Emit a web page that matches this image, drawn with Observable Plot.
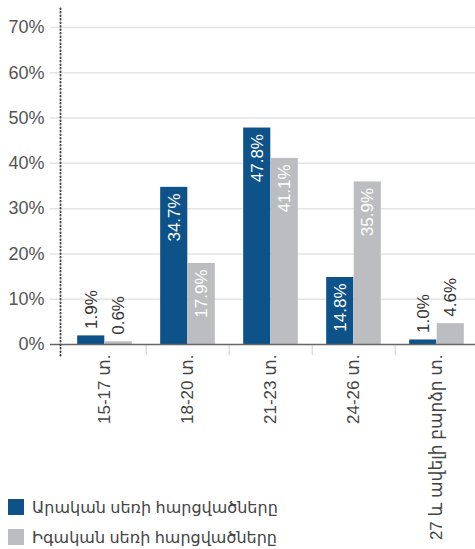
<!DOCTYPE html>
<html>
<head>
<meta charset="utf-8">
<script src="https://cdn.jsdelivr.net/npm/d3@7"></script>
<script src="https://cdn.jsdelivr.net/npm/@observablehq/plot@0.6"></script>
<style>
  html, body { margin: 0; padding: 0; background: #fff; }
  #wrap { position: relative; width: 475px; height: 549px; font-family: "Liberation Sans", Arial, "DejaVu Sans", sans-serif; }
  #legend { position: absolute; left: 8px; top: 492px; font-size: 16px; color: #444; }
  .item { display: flex; align-items: center; height: 30px; }
  .sw { width: 16px; height: 16px; margin-right: 8px; }
</style>
</head>
<body>
<div id="wrap">
  <div id="chart"></div>
  <div id="legend"></div>
</div>
<script>
const categories = ["15-17 տ.", "18-20 տ.", "21-23 տ.", "24-26 տ.", "27 և ավելի բարձր տ."];
const seriesNames = ["Արական սեռի հարցվածները", "Իգական սեռի հարցվածները"];
const maleValues = [1.9, 34.7, 47.8, 14.8, 1.0];
const femaleValues = [0.6, 17.9, 41.1, 35.9, 4.6];
const yTicks = [0, 10, 20, 30, 40, 50, 60, 70];
const colors = ["#0d5289", "#bcbdc0"];

const W = 475, H = 549, ML = 62, MR = -4, MT = 27, MB = 205;
const step = (W - ML - MR) / categories.length;
const barW = step * 0.33;
const gapOuter = (step - 2 * barW) / 2;

const male = categories.map((c, i) => ({cat: c, v: maleValues[i]}));
const female = categories.map((c, i) => ({cat: c, v: femaleValues[i]}));
const fmt = d => d.v.toFixed(1) + "%";
const inside = d => d.v >= 10;
const outside = d => d.v < 10;
const off = barW / 2; // distance from band centre to bar centre

const labelMarks = (data, sign, inColor) => [
  Plot.text(data.filter(inside), {x: "cat", y: "v", text: fmt, rotate: -90, textAnchor: "end",
    dx: sign * off, dy: 6, fill: inColor, fontSize: 17}),
  Plot.text(data.filter(outside), {x: "cat", y: "v", text: fmt, rotate: -90, textAnchor: "start",
    dx: sign * off, dy: -7, fill: "#333", fontSize: 17})
];

const chart = Plot.plot({
  width: W, height: H,
  marginLeft: ML, marginRight: MR, marginTop: MT, marginBottom: MB,
  style: {fontFamily: '"Liberation Sans", Arial, "DejaVu Sans", sans-serif', background: "#fff", overflow: "visible"},
  x: {domain: categories, padding: 0, label: null},
  y: {domain: [0, 70], label: null},
  marks: [
    Plot.ruleY(yTicks.filter(t => t > 0), {stroke: "#e4e4e4", strokeWidth: 1.5, insetLeft: -12}),
    Plot.ruleX(categories.slice(1), {x: d => d, dx: -step / 2, y1: 0, y2: 0, insetBottom: -11, stroke: "#dcdcdc", strokeWidth: 1.5}),
    Plot.barY(male, {x: "cat", y: "v", fill: colors[0], insetLeft: gapOuter, insetRight: step - gapOuter - barW}),
    Plot.barY(female, {x: "cat", y: "v", fill: colors[1], insetLeft: gapOuter + barW, insetRight: gapOuter}),
    Plot.ruleY([0], {stroke: "#666", strokeWidth: 1.5, insetLeft: -12}),
    Plot.frame({anchor: "left", stroke: "#444", strokeWidth: 2, strokeDasharray: "0.5 3", strokeLinecap: "round", insetTop: -19, insetBottom: -12, dx: -2}),
    ...labelMarks(male, -1, "#fff"),
    ...labelMarks(female, 1, "#fff"),
    Plot.axisY(yTicks, {tickSize: 0, tickPadding: 18, tickFormat: d => d + "%", fontSize: 18, fill: "#555", label: null}),
    Plot.axisX({tickSize: 0, tickPadding: 10, tickRotate: -90, fontSize: 17, fill: "#444", label: null})
  ]
});
document.getElementById("chart").appendChild(chart);

const legend = document.getElementById("legend");
seriesNames.forEach((name, i) => {
  const item = document.createElement("div");
  item.className = "item";
  const sw = document.createElement("div");
  sw.className = "sw";
  sw.style.background = colors[i];
  const t = document.createElement("span");
  t.textContent = name;
  item.appendChild(sw);
  item.appendChild(t);
  legend.appendChild(item);
});
</script>
</body>
</html>
